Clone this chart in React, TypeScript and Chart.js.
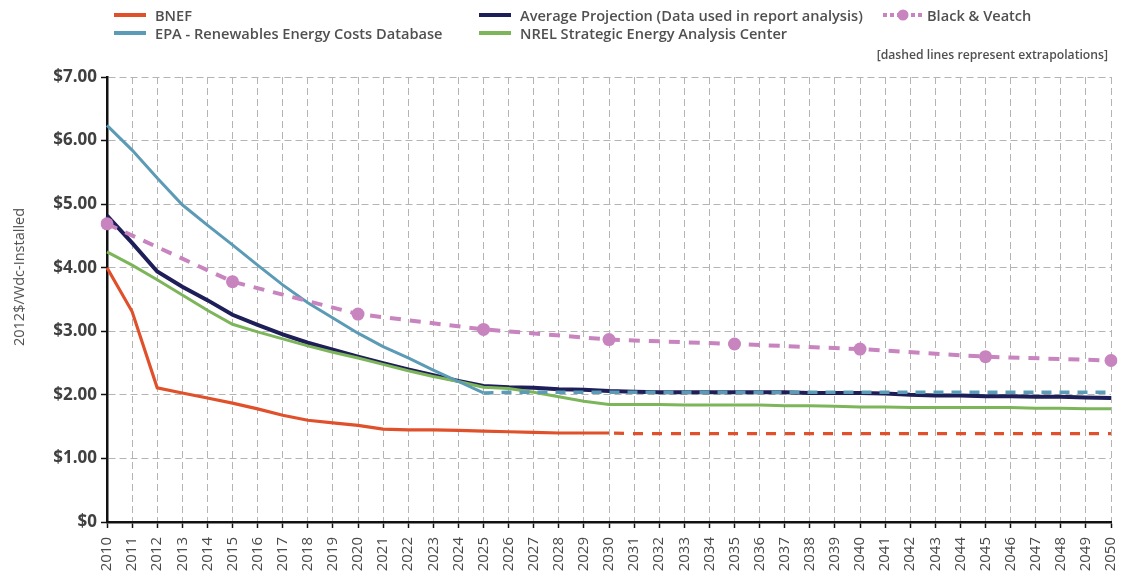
import React, { useEffect, useRef } from "react";
import { Chart, registerables } from "chart.js";

Chart.register(...registerables);

// Category axis
const years = [
  "2010", "2011", "2012", "2013", "2014", "2015", "2016", "2017", "2018", "2019",
  "2020", "2021", "2022", "2023", "2024", "2025", "2026", "2027", "2028", "2029",
  "2030", "2031", "2032", "2033", "2034", "2035", "2036", "2037", "2038", "2039",
  "2040", "2041", "2042", "2043", "2044", "2045", "2046", "2047", "2048", "2049",
  "2050",
];

// BNEF, reported 2010–2030, extrapolated 2030–2050
const bnef = [
  4.0, 3.31, 2.11, 2.03, 1.95, 1.87, 1.78, 1.68, 1.6, 1.56,
  1.52, 1.46, 1.45, 1.45, 1.44, 1.43, 1.42, 1.41, 1.4, 1.4, 1.4,
];
const bnefExtrap = [
  null, null, null, null, null, null, null, null, null, null,
  null, null, null, null, null, null, null, null, null, null,
  1.4, 1.39, 1.39, 1.39, 1.39, 1.39, 1.39, 1.39, 1.39, 1.39,
  1.39, 1.39, 1.39, 1.39, 1.39, 1.39, 1.39, 1.39, 1.39, 1.39, 1.39,
];

// EPA, reported 2010–2025, extrapolated 2025–2050
const epa = [
  6.24, 5.85, 5.41, 4.99, 4.67, 4.36, 4.04, 3.73, 3.45, 3.21,
  2.97, 2.76, 2.58, 2.39, 2.21, 2.03,
];
const epaExtrap = [
  null, null, null, null, null, null, null, null, null, null,
  null, null, null, null, null,
  2.03, 2.04, 2.04, 2.04, 2.04, 2.04, 2.04, 2.04, 2.04, 2.04,
  2.04, 2.04, 2.04, 2.04, 2.04, 2.04, 2.04, 2.04, 2.04, 2.04,
  2.04, 2.04, 2.04, 2.04, 2.04, 2.04,
];

const average = [
  4.82, 4.39, 3.94, 3.7, 3.49, 3.26, 3.1, 2.95, 2.82, 2.71,
  2.6, 2.5, 2.4, 2.31, 2.22, 2.14, 2.12, 2.11, 2.09, 2.08,
  2.06, 2.05, 2.04, 2.04, 2.04, 2.04, 2.04, 2.04, 2.03, 2.03,
  2.03, 2.02, 2.0, 1.99, 1.99, 1.98, 1.98, 1.97, 1.97, 1.96, 1.95,
];

const nrel = [
  4.25, 4.04, 3.81, 3.57, 3.33, 3.11, 2.99, 2.88, 2.77, 2.67,
  2.58, 2.48, 2.38, 2.29, 2.21, 2.12, 2.1, 2.04, 1.97, 1.9,
  1.85, 1.85, 1.85, 1.84, 1.84, 1.84, 1.84, 1.83, 1.83, 1.82,
  1.81, 1.81, 1.8, 1.8, 1.8, 1.8, 1.8, 1.79, 1.79, 1.78, 1.78,
];

// Black & Veatch, five-year points only
const blackVeatch = [
  4.69, null, null, null, null, 3.78, null, null, null, null,
  3.27, null, null, null, null, 3.03, null, null, null, null,
  2.87, null, null, null, null, 2.8, null, null, null, null,
  2.72, null, null, null, null, 2.6, null, null, null, null, 2.54,
];

const yTicks = [0, 1, 2, 3, 4, 5, 6, 7];

const RED = "#E0512B";
const BLUE = "#5C9BB6";
const NAVY = "#1E1E58";
const GREEN = "#7DB65A";
const PINK = "#C884BE";

const FONT = "'Open Sans', 'Noto Sans', sans-serif";
const TEXT = "#505050";

function LegendItem(props: { x: number; y: number; color: string; label: string }) {
  return (
    <div style={{ position: "absolute", left: props.x, top: props.y - 10, height: 20, display: "flex", alignItems: "center" }}>
      <div style={{ width: 32, height: 4, background: props.color, marginRight: 9 }} />
      <span style={{ fontFamily: FONT, fontSize: 14.6, fontWeight: 600, color: TEXT, whiteSpace: "nowrap", lineHeight: "20px" }}>
        {props.label}
      </span>
    </div>
  );
}

export default function App() {
  const canvasRef = useRef<HTMLCanvasElement | null>(null);

  useEffect(() => {
    document.body.style.margin = "0";
    const canvas = canvasRef.current;
    if (!canvas) return;

    const lineBase = { pointRadius: 0, pointHoverRadius: 0, tension: 0, fill: false, borderCapStyle: "butt" as const };

    const chart = new Chart(canvas, {
      type: "line",
      data: {
        labels: years,
        datasets: [
          { ...lineBase, label: "Average Projection (Data used in report analysis)", data: average, borderColor: NAVY, borderWidth: 4, order: 5 },
          { ...lineBase, label: "NREL Strategic Energy Analysis Center", data: nrel, borderColor: GREEN, borderWidth: 3, order: 4 },
          { ...lineBase, label: "BNEF", data: bnef, borderColor: RED, borderWidth: 3.2, order: 3 },
          { ...lineBase, label: "BNEF extrapolation", data: bnefExtrap, borderColor: RED, borderWidth: 3.2, borderDash: [10, 9], borderDashOffset: 14, order: 3 },
          { ...lineBase, label: "EPA - Renewables Energy Costs Database", data: epa, borderColor: BLUE, borderWidth: 3, order: 2 },
          { ...lineBase, label: "EPA extrapolation", data: epaExtrap, borderColor: BLUE, borderWidth: 3.5, borderDash: [10, 8], order: 2 },
          {
            label: "Black & Veatch",
            data: blackVeatch,
            borderColor: PINK,
            backgroundColor: PINK,
            borderWidth: 4,
            borderDash: [11, 9],
            tension: 0,
            spanGaps: true,
            pointRadius: 6.5,
            pointBorderWidth: 0,
            pointBackgroundColor: PINK,
            pointHoverRadius: 6.5,
            order: 1,
          },
        ],
      },
      options: {
        responsive: false,
        animation: false,
        events: [],
        layout: { padding: { top: 77, right: 12, left: 0, bottom: 0 } },
        plugins: { legend: { display: false }, tooltip: { enabled: false }, title: { display: false } },
        scales: {
          x: {
            type: "category",
            offset: false,
            afterFit: (scale: any) => {
              scale.height = 57;
              scale.paddingLeft = 0;
              scale.paddingRight = 0;
            },
            grid: {
              color: "#b4b4b4",
              lineWidth: 1,
              drawTicks: true,
              tickLength: 6,
              tickColor: "#111",
              tickWidth: 1.5,
            },
            border: { display: true, color: "#111", width: 2.5, dash: [7, 4] },
            ticks: {
              autoSkip: false,
              minRotation: 90,
              maxRotation: 90,
              padding: 9,
              color: "#4a4a4a",
              font: { family: FONT, size: 15, weight: "500" },
            },
          },
          y: {
            min: 0,
            max: 7,
            afterFit: (scale: any) => {
              scale.width = 107;
              scale.paddingTop = 0;
              scale.paddingBottom = 0;
            },
            afterBuildTicks: (scale: any) => {
              scale.ticks = yTicks.map((v) => ({ value: v }));
            },
            grid: {
              color: "#b4b4b4",
              lineWidth: 1,
              drawTicks: true,
              tickLength: 6,
              tickColor: "#111",
              tickWidth: 1.5,
            },
            border: { display: true, color: "#111", width: 2.5, dash: [7, 4] },
            ticks: {
              padding: 4,
              color: "#404040",
              font: { family: FONT, size: 17, weight: "bold" },
              callback: (v: any) => (Number(v) === 0 ? "$0" : "$" + Number(v).toFixed(2)),
            },
          },
        },
      },
    });

    return () => chart.destroy();
  }, []);

  return (
    <div style={{ position: "relative", width: 1123, height: 579, background: "#fff", overflow: "hidden" }}>
      <canvas ref={canvasRef} width={1123} height={579} style={{ position: "absolute", left: 0, top: 0, width: 1123, height: 579 }} />

      <LegendItem x={114} y={15} color={RED} label="BNEF" />
      <LegendItem x={114} y={33} color={BLUE} label="EPA - Renewables Energy Costs Database" />
      <LegendItem x={479} y={15} color={NAVY} label="Average Projection (Data used in report analysis)" />
      <LegendItem x={479} y={33} color={GREEN} label="NREL Strategic Energy Analysis Center" />

      <div style={{ position: "absolute", left: 883, top: 5, height: 20, display: "flex", alignItems: "center" }}>
        <svg width={40} height={14} style={{ marginRight: 4 }}>
          <line x1={0} y1={7} x2={40} y2={7} stroke={PINK} strokeWidth={4} strokeDasharray="4 3" />
          <circle cx={20} cy={7} r={5.5} fill={PINK} />
        </svg>
        <span style={{ fontFamily: FONT, fontSize: 14.6, fontWeight: 600, color: TEXT, whiteSpace: "nowrap", lineHeight: "20px" }}>
          Black &amp; Veatch
        </span>
      </div>

      <div
        style={{
          position: "absolute",
          right: 15,
          top: 46,
          fontFamily: FONT,
          fontSize: 12.2,
          fontWeight: 600,
          color: TEXT,
          whiteSpace: "nowrap",
          lineHeight: "18px",
        }}
      >
        [dashed lines represent extrapolations]
      </div>

      <div
        style={{
          position: "absolute",
          left: 19,
          top: 277,
          transform: "translate(-50%, -50%) rotate(-90deg)",
          fontFamily: FONT,
          fontSize: 14.5,
          color: TEXT,
          whiteSpace: "nowrap",
          lineHeight: "18px",
        }}
      >
        2012$/Wdc-Installed
      </div>
    </div>
  );
}
